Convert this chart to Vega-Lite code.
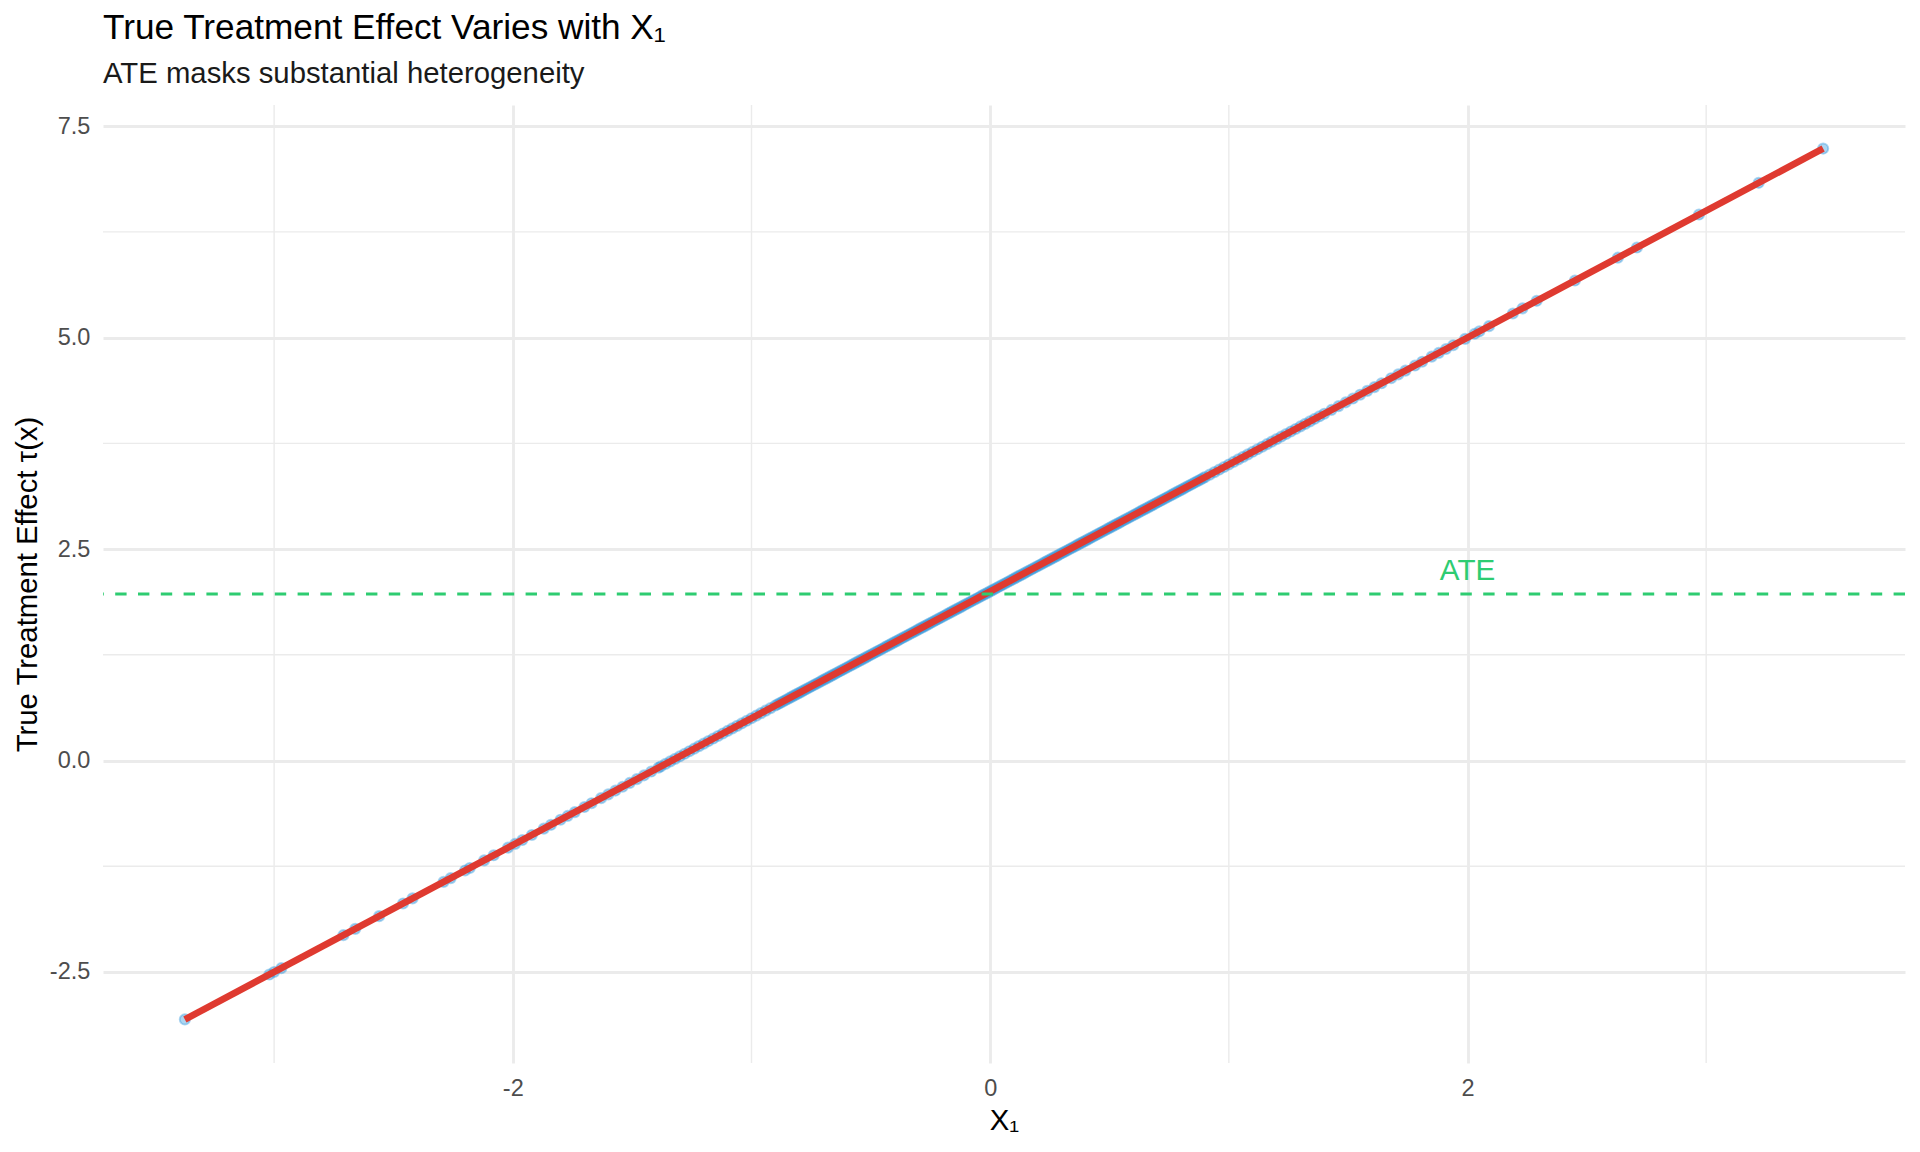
{
  "$schema": "https://vega.github.io/schema/vega-lite/v6.json",
  "width": 1802,
  "height": 958,
  "autosize": {"type": "none"},
  "padding": {"left": 103, "top": 105, "right": 15, "bottom": 89},
  "background": "white",
  "title": {
    "text": "True Treatment Effect Varies with X₁",
    "subtitle": "ATE masks substantial heterogeneity",
    "anchor": "start",
    "frame": "group",
    "offset": 15,
    "subtitlePadding": 14,
    "font": "Liberation Sans",
    "subtitleFont": "Liberation Sans",
    "fontSize": 35.2,
    "subtitleFontSize": 29.3,
    "fontWeight": "normal",
    "color": "#000000",
    "subtitleColor": "#1a1a1a"
  },
  "config": {
    "view": {"stroke": null},
    "axis": {
      "grid": true,
      "gridColor": "#ebebeb",
      "gridWidth": 2.85,
      "domain": false,
      "ticks": false,
      "labelPadding": 13.2,
      "labelFont": "Liberation Sans",
      "labelFontSize": 23.5,
      "labelColor": "#4d4d4d",
      "titleFont": "Liberation Sans",
      "titleFontSize": 29.3,
      "titleFontWeight": "normal",
      "titleColor": "#000000",
      "titlePadding": 7
    }
  },
  "datasets": {
    "mx": [{"x": -3}, {"x": -1}, {"x": 1}, {"x": 3}],
    "my": [{"t": -1.25}, {"t": 1.25}, {"t": 3.75}, {"t": 6.25}],
    "fit": [{"x": -3.374, "t": -3.061}, {"x": 3.49, "t": 7.235}],
    "ate": [{"t": 1.969}],
    "lab": [{"label": "ATE", "x": 2, "t": 2.24}],
    "pts": [
      {"x": -3.374, "t": -3.061}, {"x": -3.02, "t": -2.53}, {"x": -3.0, "t": -2.5}, {"x": -2.97, "t": -2.455},
      {"x": -2.71, "t": -2.065}, {"x": -2.66, "t": -1.99}, {"x": -2.56, "t": -1.84}, {"x": -2.46, "t": -1.69},
      {"x": -2.42, "t": -1.63}, {"x": -2.29, "t": -1.435}, {"x": -2.26, "t": -1.39}, {"x": -2.2, "t": -1.3},
      {"x": -2.18, "t": -1.27}, {"x": -2.12, "t": -1.18}, {"x": -2.08, "t": -1.12}, {"x": -2.02, "t": -1.03},
      {"x": -1.99, "t": -0.985}, {"x": -1.96, "t": -0.94}, {"x": -1.92, "t": -0.88}, {"x": -1.87, "t": -0.805},
      {"x": -1.84, "t": -0.76}, {"x": -1.8, "t": -0.7}, {"x": -1.77, "t": -0.655}, {"x": -1.74, "t": -0.61},
      {"x": -1.7, "t": -0.55}, {"x": -1.67, "t": -0.505}, {"x": -1.63, "t": -0.445}, {"x": -1.6, "t": -0.4},
      {"x": -1.57, "t": -0.355}, {"x": -1.54, "t": -0.31}, {"x": -1.51, "t": -0.265}, {"x": -1.48, "t": -0.22},
      {"x": -1.45, "t": -0.175}, {"x": -1.42, "t": -0.13}, {"x": -1.39, "t": -0.085}, {"x": -1.38, "t": -0.07},
      {"x": -1.36, "t": -0.04}, {"x": -1.34, "t": -0.01}, {"x": -1.32, "t": 0.02}, {"x": -1.3, "t": 0.05},
      {"x": -1.28, "t": 0.08}, {"x": -1.26, "t": 0.11}, {"x": -1.24, "t": 0.14}, {"x": -1.22, "t": 0.17},
      {"x": -1.2, "t": 0.2}, {"x": -1.18, "t": 0.23}, {"x": -1.16, "t": 0.26}, {"x": -1.14, "t": 0.29},
      {"x": -1.12, "t": 0.32}, {"x": -1.1, "t": 0.35}, {"x": -1.08, "t": 0.38}, {"x": -1.06, "t": 0.41},
      {"x": -1.04, "t": 0.44}, {"x": -1.02, "t": 0.47}, {"x": -1.0, "t": 0.5}, {"x": -0.98, "t": 0.53},
      {"x": -0.96, "t": 0.56}, {"x": -0.94, "t": 0.59}, {"x": -0.92, "t": 0.62},
      {"x": -0.9, "t": 0.65}, {"x": -0.89, "t": 0.665}, {"x": -0.88, "t": 0.68}, {"x": -0.87, "t": 0.695},
      {"x": -0.86, "t": 0.71}, {"x": -0.85, "t": 0.725}, {"x": -0.84, "t": 0.74}, {"x": -0.83, "t": 0.755},
      {"x": -0.82, "t": 0.77}, {"x": -0.81, "t": 0.785}, {"x": -0.8, "t": 0.8}, {"x": -0.79, "t": 0.815},
      {"x": -0.78, "t": 0.83}, {"x": -0.77, "t": 0.845}, {"x": -0.76, "t": 0.86}, {"x": -0.75, "t": 0.875},
      {"x": -0.74, "t": 0.89}, {"x": -0.73, "t": 0.905}, {"x": -0.72, "t": 0.92}, {"x": -0.71, "t": 0.935},
      {"x": -0.7, "t": 0.95}, {"x": -0.69, "t": 0.965}, {"x": -0.68, "t": 0.98}, {"x": -0.67, "t": 0.995},
      {"x": -0.66, "t": 1.01}, {"x": -0.65, "t": 1.025}, {"x": -0.64, "t": 1.04}, {"x": -0.63, "t": 1.055},
      {"x": -0.62, "t": 1.07}, {"x": -0.61, "t": 1.085}, {"x": -0.6, "t": 1.1}, {"x": -0.59, "t": 1.115},
      {"x": -0.58, "t": 1.13}, {"x": -0.57, "t": 1.145}, {"x": -0.56, "t": 1.16}, {"x": -0.55, "t": 1.175},
      {"x": -0.54, "t": 1.19}, {"x": -0.53, "t": 1.205}, {"x": -0.52, "t": 1.22}, {"x": -0.51, "t": 1.235},
      {"x": -0.5, "t": 1.25}, {"x": -0.49, "t": 1.265}, {"x": -0.48, "t": 1.28}, {"x": -0.47, "t": 1.295},
      {"x": -0.46, "t": 1.31}, {"x": -0.45, "t": 1.325}, {"x": -0.44, "t": 1.34}, {"x": -0.43, "t": 1.355},
      {"x": -0.42, "t": 1.37}, {"x": -0.41, "t": 1.385}, {"x": -0.4, "t": 1.4}, {"x": -0.39, "t": 1.415},
      {"x": -0.38, "t": 1.43}, {"x": -0.37, "t": 1.445}, {"x": -0.36, "t": 1.46}, {"x": -0.35, "t": 1.475},
      {"x": -0.34, "t": 1.49}, {"x": -0.33, "t": 1.505}, {"x": -0.32, "t": 1.52}, {"x": -0.31, "t": 1.535},
      {"x": -0.3, "t": 1.55}, {"x": -0.29, "t": 1.565}, {"x": -0.28, "t": 1.58}, {"x": -0.27, "t": 1.595},
      {"x": -0.26, "t": 1.61}, {"x": -0.25, "t": 1.625}, {"x": -0.24, "t": 1.64}, {"x": -0.23, "t": 1.655},
      {"x": -0.22, "t": 1.67}, {"x": -0.21, "t": 1.685}, {"x": -0.2, "t": 1.7}, {"x": -0.19, "t": 1.715},
      {"x": -0.18, "t": 1.73}, {"x": -0.17, "t": 1.745}, {"x": -0.16, "t": 1.76}, {"x": -0.15, "t": 1.775},
      {"x": -0.14, "t": 1.79}, {"x": -0.13, "t": 1.805}, {"x": -0.12, "t": 1.82}, {"x": -0.11, "t": 1.835},
      {"x": -0.1, "t": 1.85}, {"x": -0.09, "t": 1.865}, {"x": -0.08, "t": 1.88}, {"x": -0.07, "t": 1.895},
      {"x": -0.06, "t": 1.91}, {"x": -0.05, "t": 1.925}, {"x": -0.04, "t": 1.94}, {"x": -0.03, "t": 1.955},
      {"x": -0.02, "t": 1.97}, {"x": -0.01, "t": 1.985}, {"x": 0.0, "t": 2.0}, {"x": 0.01, "t": 2.015},
      {"x": 0.02, "t": 2.03}, {"x": 0.03, "t": 2.045}, {"x": 0.04, "t": 2.06}, {"x": 0.05, "t": 2.075},
      {"x": 0.06, "t": 2.09}, {"x": 0.07, "t": 2.105}, {"x": 0.08, "t": 2.12}, {"x": 0.09, "t": 2.135},
      {"x": 0.1, "t": 2.15}, {"x": 0.11, "t": 2.165}, {"x": 0.12, "t": 2.18}, {"x": 0.13, "t": 2.195},
      {"x": 0.14, "t": 2.21}, {"x": 0.15, "t": 2.225}, {"x": 0.16, "t": 2.24}, {"x": 0.17, "t": 2.255},
      {"x": 0.18, "t": 2.27}, {"x": 0.19, "t": 2.285}, {"x": 0.2, "t": 2.3}, {"x": 0.21, "t": 2.315},
      {"x": 0.22, "t": 2.33}, {"x": 0.23, "t": 2.345}, {"x": 0.24, "t": 2.36}, {"x": 0.25, "t": 2.375},
      {"x": 0.26, "t": 2.39}, {"x": 0.27, "t": 2.405}, {"x": 0.28, "t": 2.42}, {"x": 0.29, "t": 2.435},
      {"x": 0.3, "t": 2.45}, {"x": 0.31, "t": 2.465}, {"x": 0.32, "t": 2.48}, {"x": 0.33, "t": 2.495},
      {"x": 0.34, "t": 2.51}, {"x": 0.35, "t": 2.525}, {"x": 0.36, "t": 2.54}, {"x": 0.37, "t": 2.555},
      {"x": 0.38, "t": 2.57}, {"x": 0.39, "t": 2.585}, {"x": 0.4, "t": 2.6}, {"x": 0.41, "t": 2.615},
      {"x": 0.42, "t": 2.63}, {"x": 0.43, "t": 2.645}, {"x": 0.44, "t": 2.66}, {"x": 0.45, "t": 2.675},
      {"x": 0.46, "t": 2.69}, {"x": 0.47, "t": 2.705}, {"x": 0.48, "t": 2.72}, {"x": 0.49, "t": 2.735},
      {"x": 0.5, "t": 2.75}, {"x": 0.51, "t": 2.765}, {"x": 0.52, "t": 2.78}, {"x": 0.53, "t": 2.795},
      {"x": 0.54, "t": 2.81}, {"x": 0.55, "t": 2.825}, {"x": 0.56, "t": 2.84}, {"x": 0.57, "t": 2.855},
      {"x": 0.58, "t": 2.87}, {"x": 0.59, "t": 2.885}, {"x": 0.6, "t": 2.9}, {"x": 0.61, "t": 2.915},
      {"x": 0.62, "t": 2.93}, {"x": 0.63, "t": 2.945}, {"x": 0.64, "t": 2.96}, {"x": 0.65, "t": 2.975},
      {"x": 0.66, "t": 2.99}, {"x": 0.67, "t": 3.005}, {"x": 0.68, "t": 3.02}, {"x": 0.69, "t": 3.035},
      {"x": 0.7, "t": 3.05}, {"x": 0.71, "t": 3.065}, {"x": 0.72, "t": 3.08}, {"x": 0.73, "t": 3.095},
      {"x": 0.74, "t": 3.11}, {"x": 0.75, "t": 3.125}, {"x": 0.76, "t": 3.14}, {"x": 0.77, "t": 3.155},
      {"x": 0.78, "t": 3.17}, {"x": 0.79, "t": 3.185}, {"x": 0.8, "t": 3.2}, {"x": 0.81, "t": 3.215},
      {"x": 0.82, "t": 3.23}, {"x": 0.83, "t": 3.245}, {"x": 0.84, "t": 3.26}, {"x": 0.85, "t": 3.275},
      {"x": 0.86, "t": 3.29}, {"x": 0.87, "t": 3.305}, {"x": 0.88, "t": 3.32}, {"x": 0.89, "t": 3.335},
      {"x": 0.9, "t": 3.35}, {"x": 0.92, "t": 3.38}, {"x": 0.94, "t": 3.41}, {"x": 0.96, "t": 3.44},
      {"x": 0.98, "t": 3.47}, {"x": 1.0, "t": 3.5}, {"x": 1.02, "t": 3.53}, {"x": 1.04, "t": 3.56},
      {"x": 1.06, "t": 3.59}, {"x": 1.08, "t": 3.62}, {"x": 1.1, "t": 3.65}, {"x": 1.12, "t": 3.68},
      {"x": 1.14, "t": 3.71}, {"x": 1.16, "t": 3.74}, {"x": 1.18, "t": 3.77}, {"x": 1.2, "t": 3.8},
      {"x": 1.22, "t": 3.83}, {"x": 1.24, "t": 3.86}, {"x": 1.26, "t": 3.89}, {"x": 1.28, "t": 3.92},
      {"x": 1.3, "t": 3.95}, {"x": 1.32, "t": 3.98}, {"x": 1.34, "t": 4.01}, {"x": 1.36, "t": 4.04},
      {"x": 1.38, "t": 4.07}, {"x": 1.4, "t": 4.1}, {"x": 1.43, "t": 4.145}, {"x": 1.46, "t": 4.19},
      {"x": 1.49, "t": 4.235}, {"x": 1.52, "t": 4.28}, {"x": 1.55, "t": 4.325}, {"x": 1.58, "t": 4.37},
      {"x": 1.61, "t": 4.415}, {"x": 1.64, "t": 4.46}, {"x": 1.68, "t": 4.52}, {"x": 1.71, "t": 4.565},
      {"x": 1.74, "t": 4.61}, {"x": 1.78, "t": 4.67}, {"x": 1.81, "t": 4.715}, {"x": 1.85, "t": 4.775},
      {"x": 1.88, "t": 4.82}, {"x": 1.91, "t": 4.865}, {"x": 1.94, "t": 4.91}, {"x": 1.99, "t": 4.985},
      {"x": 2.03, "t": 5.045}, {"x": 2.05, "t": 5.075}, {"x": 2.09, "t": 5.135}, {"x": 2.19, "t": 5.285},
      {"x": 2.23, "t": 5.345}, {"x": 2.29, "t": 5.435}, {"x": 2.45, "t": 5.675}, {"x": 2.63, "t": 5.945},
      {"x": 2.71, "t": 6.065}, {"x": 2.97, "t": 6.455}, {"x": 3.22, "t": 6.83}, {"x": 3.49, "t": 7.235}
    ]
  },
  "layer": [
    {
      "data": {"name": "mx"},
      "mark": {"type": "rule", "color": "#ebebeb", "strokeWidth": 1.42},
      "encoding": {
        "x": {"field": "x", "type": "quantitative", "title": "X₁", "scale": {"domain": [-3.717, 3.833], "nice": false, "zero": false},
              "axis": {"values": [-2, 0, 2], "title": "X₁", "labelExpr": "replace(format(datum.value, 'd'), '−', '-')"}}
      }
    },
    {
      "data": {"name": "my"},
      "mark": {"type": "rule", "color": "#ebebeb", "strokeWidth": 1.42},
      "encoding": {
        "y": {"field": "t", "type": "quantitative", "title": "True Treatment Effect τ(x)", "scale": {"domain": [-3.576, 7.75], "nice": false, "zero": false},
              "axis": {"values": [-2.5, 0, 2.5, 5, 7.5], "title": "True Treatment Effect τ(x)", "labelExpr": "replace(format(datum.value, '.1f'), '−', '-')"}}
      }
    },
    {
      "data": {"name": "pts"},
      "mark": {"type": "point", "shape": "circle", "filled": true, "fill": "#3498db", "fillOpacity": 0.4, "stroke": "#3498db", "strokeOpacity": 0.4, "strokeWidth": 1.9, "size": 105},
      "encoding": {
        "x": {"field": "x", "type": "quantitative", "title": "X₁", "scale": {"domain": [-3.717, 3.833], "nice": false, "zero": false},
              "axis": {"values": [-2, 0, 2], "title": "X₁", "labelExpr": "replace(format(datum.value, 'd'), '−', '-')"}},
        "y": {"field": "t", "type": "quantitative", "title": "True Treatment Effect τ(x)", "scale": {"domain": [-3.576, 7.75], "nice": false, "zero": false},
              "axis": {"values": [-2.5, 0, 2.5, 5, 7.5], "title": "True Treatment Effect τ(x)", "labelExpr": "replace(format(datum.value, '.1f'), '−', '-')"}}
      }
    },
    {
      "data": {"name": "fit"},
      "mark": {"type": "line", "color": "#df3a30", "strokeWidth": 6.8, "strokeCap": "butt"},
      "encoding": {
        "x": {"field": "x", "type": "quantitative", "title": "X₁", "scale": {"domain": [-3.717, 3.833], "nice": false, "zero": false},
              "axis": {"values": [-2, 0, 2], "title": "X₁", "labelExpr": "replace(format(datum.value, 'd'), '−', '-')"}},
        "y": {"field": "t", "type": "quantitative", "title": "True Treatment Effect τ(x)", "scale": {"domain": [-3.576, 7.75], "nice": false, "zero": false},
              "axis": {"values": [-2.5, 0, 2.5, 5, 7.5], "title": "True Treatment Effect τ(x)", "labelExpr": "replace(format(datum.value, '.1f'), '−', '-')"}}
      }
    },
    {
      "data": {"name": "ate"},
      "mark": {"type": "rule", "color": "#2ecc71", "strokeWidth": 2.85, "strokeDash": [11.4, 11.4]},
      "encoding": {
        "y": {"field": "t", "type": "quantitative", "title": "True Treatment Effect τ(x)", "scale": {"domain": [-3.576, 7.75], "nice": false, "zero": false},
              "axis": {"values": [-2.5, 0, 2.5, 5, 7.5], "title": "True Treatment Effect τ(x)", "labelExpr": "replace(format(datum.value, '.1f'), '−', '-')"}}
      }
    },
    {
      "data": {"name": "lab"},
      "mark": {"type": "text", "color": "#2ecc71", "font": "Liberation Sans", "fontSize": 29.6, "align": "center", "baseline": "middle"},
      "encoding": {
        "x": {"field": "x", "type": "quantitative", "title": "X₁", "scale": {"domain": [-3.717, 3.833], "nice": false, "zero": false},
              "axis": {"values": [-2, 0, 2], "title": "X₁", "labelExpr": "replace(format(datum.value, 'd'), '−', '-')"}},
        "y": {"field": "t", "type": "quantitative", "title": "True Treatment Effect τ(x)", "scale": {"domain": [-3.576, 7.75], "nice": false, "zero": false},
              "axis": {"values": [-2.5, 0, 2.5, 5, 7.5], "title": "True Treatment Effect τ(x)", "labelExpr": "replace(format(datum.value, '.1f'), '−', '-')"}},
        "text": {"field": "label"}
      }
    }
  ]
}
